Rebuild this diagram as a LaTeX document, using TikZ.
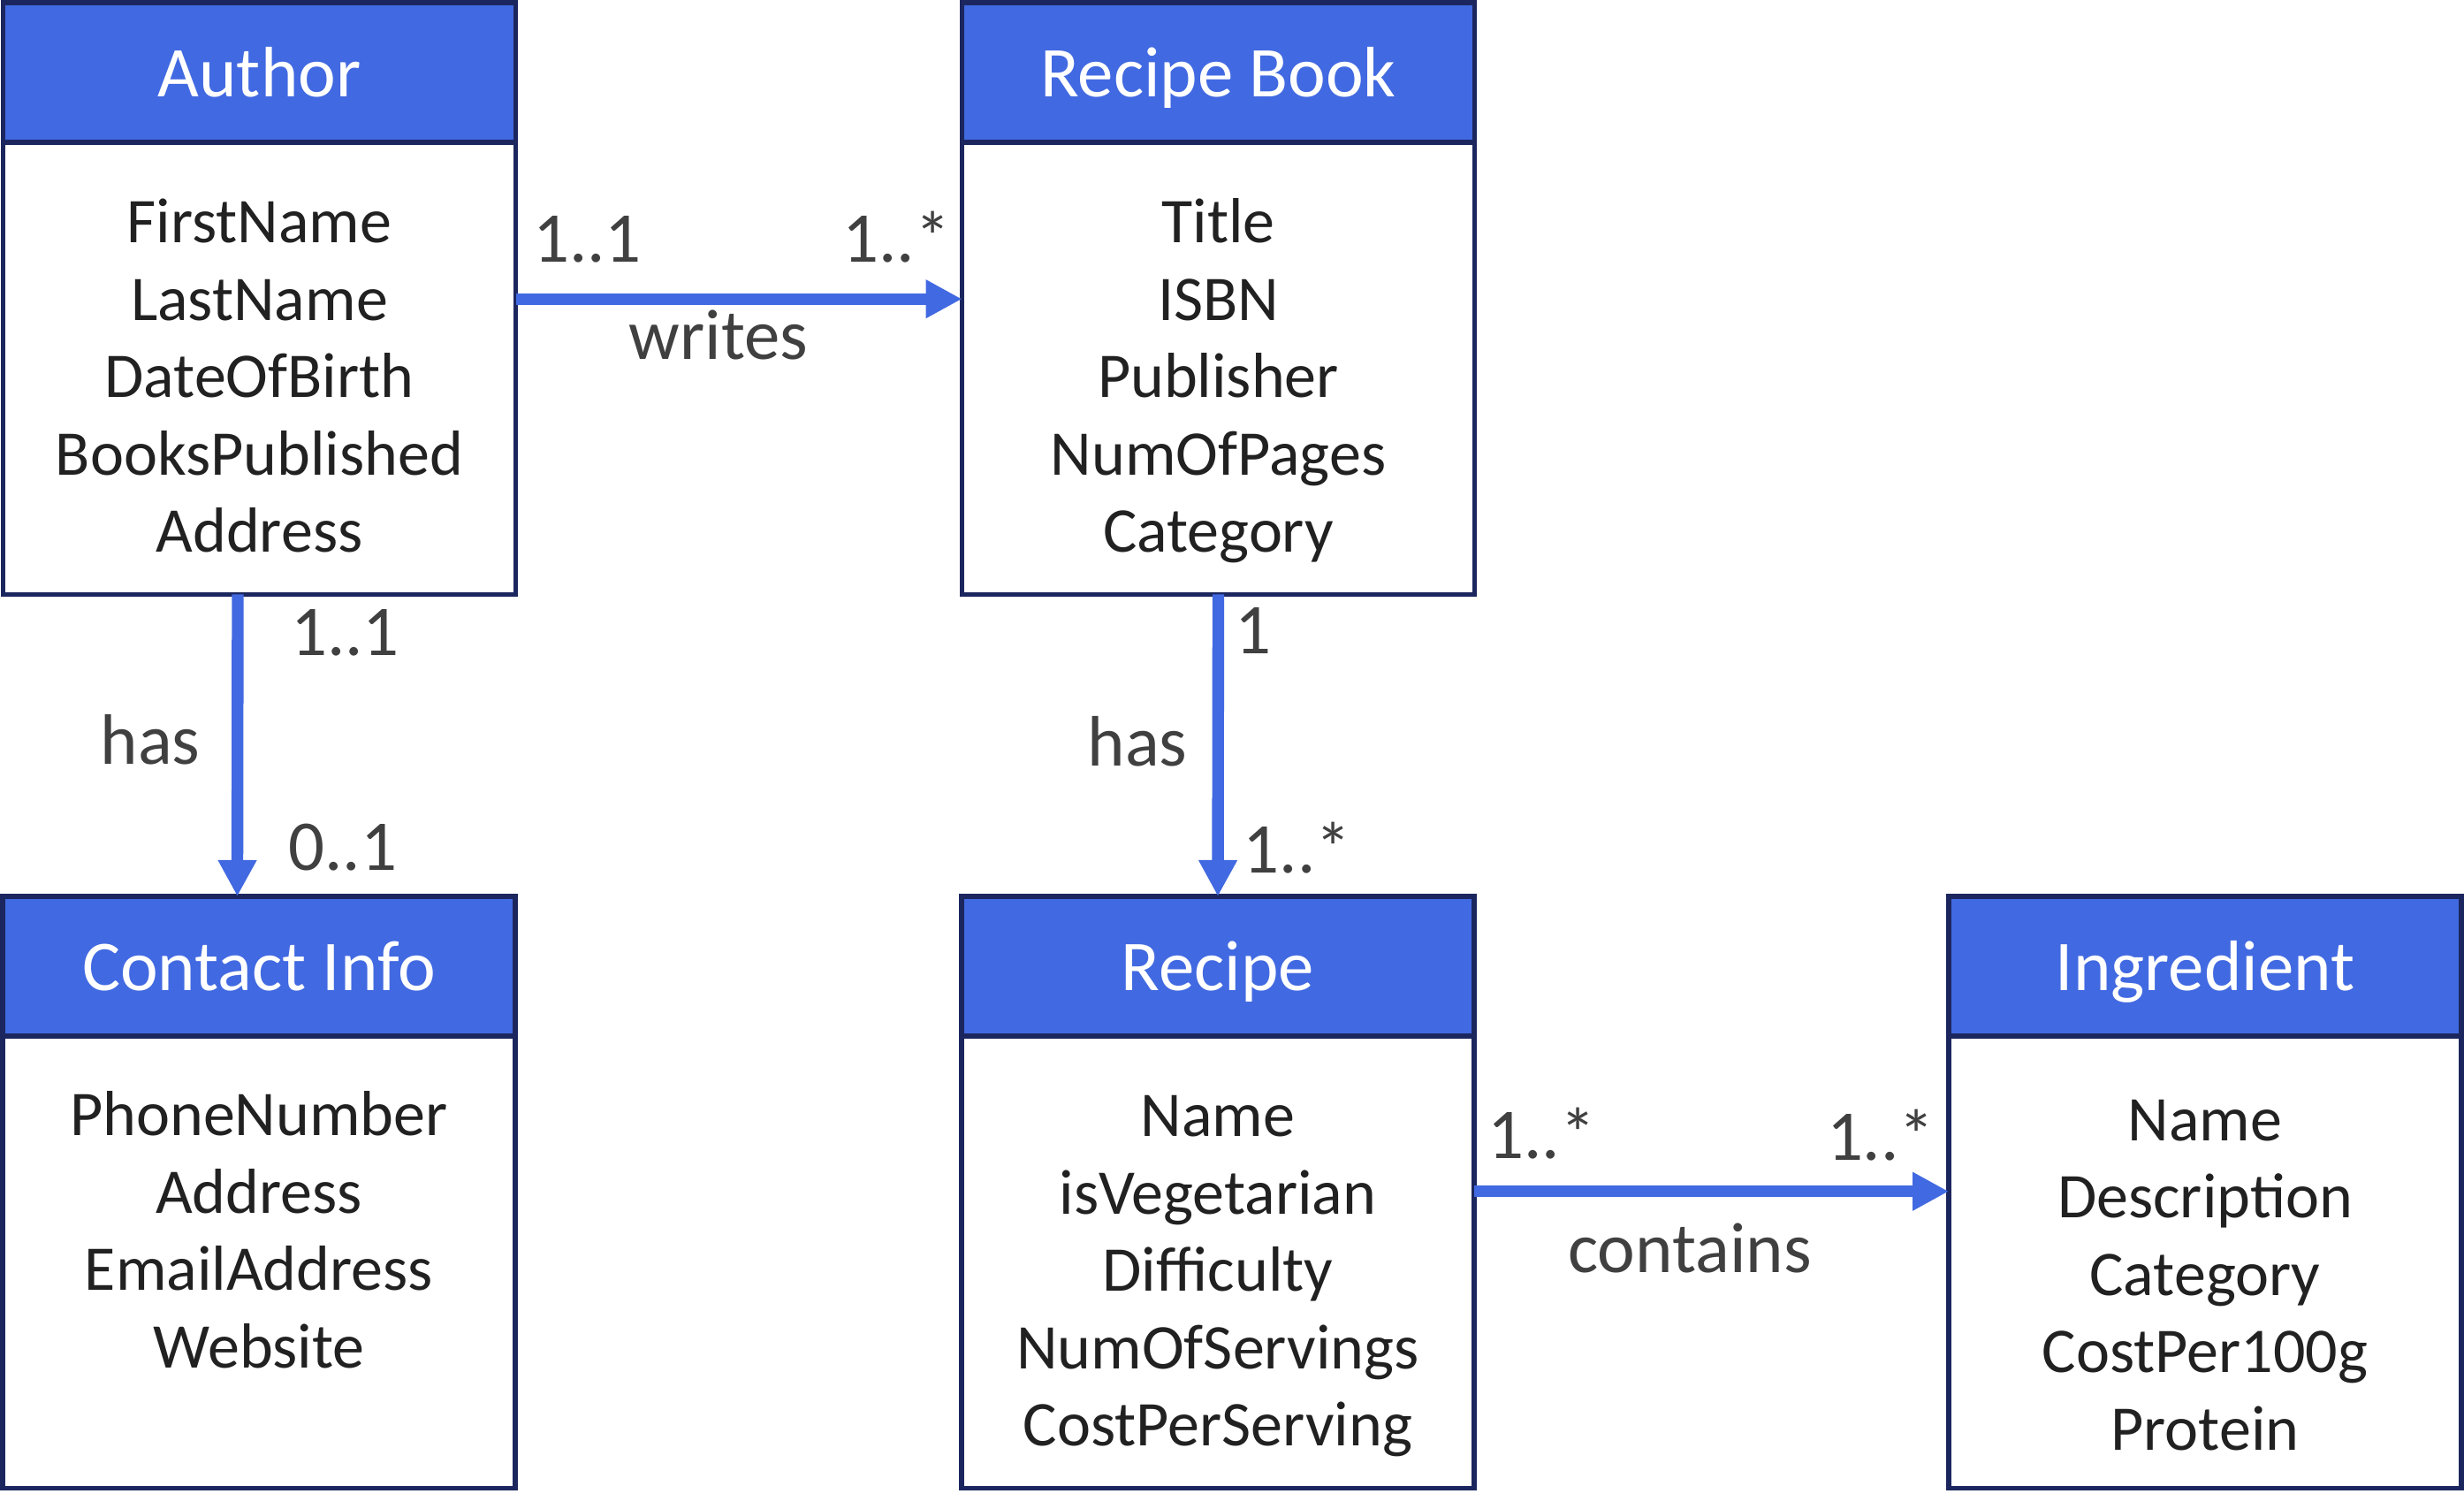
\documentclass[tikz,border=0pt]{standalone}
\usepackage{fontspec}
\setmainfont{Carlito}
\usetikzlibrary{arrows.meta,positioning}

\definecolor{headblue}{RGB}{65,105,225}
\definecolor{boxnavy}{RGB}{28,38,94}
\definecolor{attrgray}{RGB}{33,33,33}
\definecolor{labelgray}{RGB}{64,64,64}

\begin{document}
\begin{tikzpicture}[
  head/.style={draw=boxnavy,line width=1.6pt,fill=headblue,text=white,inner sep=0pt,outer sep=0pt,
    minimum width=5.8cm,minimum height=1.58cm,text height=19pt,text depth=3.6pt,
    font=\fontsize{23}{28}\selectfont},
  classbody/.style={draw=boxnavy,line width=1.6pt,fill=white,inner sep=0pt,outer sep=0pt,
    minimum width=5.8cm,minimum height=5.115cm},
  attr/.style={anchor=base,inner sep=0pt,text=attrgray,font=\fontsize{20.5}{25}\selectfont},
  mult/.style={anchor=base,inner sep=0pt,text=labelgray,font=\fontsize{23}{28}\selectfont},
  assoc/.style={draw=headblue,line width=3.8pt,-{Triangle[length=4.1mm,width=4.1mm]}}
]
\useasboundingbox (0,0) rectangle (27.88,17.07);

% classes
\foreach \nm/\x/\y/\off/\title/\attrs in {
  author/2.935/16.25/1.14/Author/{FirstName,LastName,DateOfBirth,BooksPublished,Address},
  book/13.785/16.25/1.14/Recipe Book/{Title,ISBN,Publisher,NumOfPages,Category},
  contact/2.93/6.14/1.13/Contact Info/{PhoneNumber,Address,EmailAddress,Website},
  recipe/13.78/6.14/1.14/Recipe/{Name,isVegetarian,Difficulty,NumOfServings,CostPerServing},
  ingredient/24.95/6.14/1.185/Ingredient/{Name,Description,Category,CostPer100g,Protein}}
{
  \node[head] (\nm) at (\x,\y) {\title};
  \node[classbody,below=0pt of \nm] (\nm-box) {};
  \foreach \a [count=\i] in \attrs
    \node[attr] (\nm-a\i) at ([yshift={-(\off+(\i-1)*0.875)*1cm}]\nm.south) {\a};
}

% associations
\draw[assoc] ([yshift=7.85mm]author-box.east) -- ([yshift=7.85mm]book-box.west);
\draw[assoc] ([xshift=-2.45mm]author-box.south) -- ([xshift=-2.45mm]contact.north);
\draw[assoc] (book-box.south) -- (recipe.north);
\draw[assoc] ([yshift=8mm]recipe-box.east) -- ([yshift=8mm]ingredient-box.west);

% multiplicities and roles
\node[mult] (wr-from) at (6.645,14.10) {1..1};
\node[mult] (wr-to) at (10.145,14.10) {1..*};
\node[mult] (wr) at (8.13,13.00) {writes};
\node[mult] (ci-from) at (3.905,9.65) {1..1};
\node[mult] (ci-to) at (3.88,7.22) {0..1};
\node[mult] (ci) at (1.70,8.42) {has};
\node[mult] (re-from) at (14.175,9.67) {1};
\node[mult] (re-to) at (14.68,7.19) {1..*};
\node[mult] (re) at (12.87,8.40) {has};
\node[mult] (in-from) at (17.445,3.96) {1..*};
\node[mult] (in-to) at (21.28,3.94) {1..*};
\node[mult] (in) at (19.12,2.67) {contains};
\end{tikzpicture}
\end{document}
